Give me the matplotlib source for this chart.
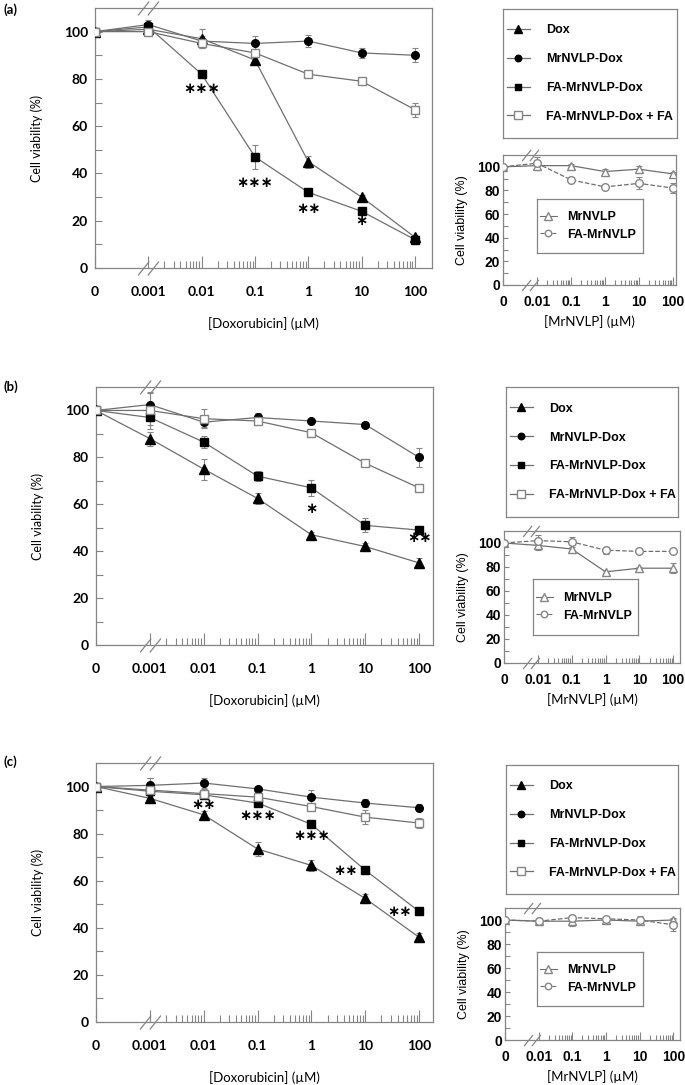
import numpy as np
import matplotlib
matplotlib.use("Agg")
import matplotlib.pyplot as plt
from matplotlib.lines import Line2D
from matplotlib.path import Path
from matplotlib.transforms import blended_transform_factory

W, H = 685, 1085

# ---- data ----
dox_conc = [0, 0.001, 0.01, 0.1, 1, 10, 100]
dox_labels = ["0", "0.001", "0.01", "0.1", "1", "10", "100"]
vlp_conc = [0, 0.01, 0.1, 1, 10, 100]
vlp_labels = ["0", "0.01", "0.1", "1", "10", "100"]

series_names = ["Dox", "MrNVLP-Dox", "FA-MrNVLP-Dox", "FA-MrNVLP-Dox + FA"]
vlp_names = ["MrNVLP", "FA-MrNVLP"]

# (a)
a_dox = [100, 101, 97, 88, 45, 30, 13]
a_dox_err = [0, 2, 4, 1.5, 2.5, 1, 1]
a_mr = [100, 103, 96, 95, 96, 91, 90]
a_mr_err = [0, 2, 2, 3, 2.5, 2, 3]
a_fa = [100, 102, 82, 47, 32, 24, 12]
a_fa_err = [0, 2, 1, 5, 1, 1, 1]
a_fafa = [100, 100, 95, 91, 82, 79, 67]
a_fafa_err = [0, 2, 2, 1, 1, 1, 3]
a_star_text = ["***", "***", "**", "*"]
a_star_conc = [0.01, 0.1, 1, 10]
a_star_y = [76, 36, 25, 20]
a_vlp = [100, 101, 101, 96, 98, 94]
a_vlp_err = [0, 4, 1, 2, 3, 2]
a_favlp = [100, 103, 89, 83, 86, 82]
a_favlp_err = [0, 5, 2, 1, 5, 4]

# (b)
b_dox = [100, 88, 75, 62.5, 47, 42, 35]
b_dox_err = [0, 3, 4.5, 2.5, 1, 1.5, 2]
b_mr = [100, 102.5, 95, 97, 95.5, 94, 80]
b_mr_err = [0, 5, 2, 2, 1, 1, 4]
b_fa = [100, 97, 86.5, 72, 67, 51, 49]
b_fa_err = [0, 3, 2.5, 2, 3.5, 3, 1.5]
b_fafa = [100, 100, 96.5, 95.5, 90.5, 77.5, 67]
b_fafa_err = [0, 8, 4, 1, 1, 1, 1]
b_star_text = ["*", "**"]
b_star_conc = [1, 100]
b_star_y = [58, 46]
b_vlp = [100, 98, 95, 76, 79, 79]
b_vlp_err = [0, 4, 3, 1, 1, 4]
b_favlp = [100, 102, 101, 94, 93, 93]
b_favlp_err = [0, 5, 4, 3, 1, 1]

# (c)
c_dox = [100, 95, 88, 73.5, 66.5, 52.5, 36]
c_dox_err = [0, 2, 1.5, 3, 2.5, 2, 2]
c_mr = [100, 100.5, 101.5, 99, 95.5, 93, 91]
c_mr_err = [0, 3, 2, 1, 3, 1.5, 1.5]
c_fa = [100, 98, 96.5, 93, 84, 64.5, 47]
c_fa_err = [0, 2, 1, 1, 1, 1, 1]
c_fafa = [100, 98.5, 97, 95.5, 91.5, 87, 84.5]
c_fafa_err = [0, 5, 2, 1, 1, 3, 2]
c_star_text = ["**", "***", "***", "**", "**"]
c_star_conc = [0.01, 0.1, 1, 10, 100]
c_star_y = [92.5, 87.5, 79, 64.5, 47]
c_vlp = [100, 99, 99, 100, 99, 100]
c_vlp_err = [0, 1, 4, 2, 2, 2]
c_favlp = [100, 99, 102, 101, 100, 96]
c_favlp_err = [0, 3, 2, 1, 3, 5]

# ---- styling ----
LINE = "#6f6f6f"
GRAY = "#858585"
TICKFONT = "Lato"
LEGFONT = "Liberation Sans"

main_styles = [
    dict(marker="^", ms=6.5, mfc="black", mec="black"),
    dict(marker="o", ms=5.5, mfc="black", mec="black"),
    dict(marker="s", ms=5.2, mfc="black", mec="black"),
    dict(marker="s", ms=6, mfc="white", mec=GRAY),
]
vlp_styles = [
    dict(marker="^", ms=6, mfc="white", mec=GRAY, ls="-"),
    dict(marker="o", ms=5.5, mfc="white", mec=GRAY, ls="--"),
]

# slash pair used as axis-break symbol
brk = Path([(-1.5, -1), (0.1, 1), (-0.1, -1), (1.5, 1)],
           [Path.MOVETO, Path.LINETO, Path.MOVETO, Path.LINETO])


def ax_box(x0, y0, x1, y1):
    return [x0 / W, 1 - y1 / H, (x1 - x0) / W, (y1 - y0) / H]


def to_pos(conc, zero):
    return np.array([np.log10(c) if c > 0 else zero for c in conc])


def add_break(ax, x, size):
    tr = blended_transform_factory(ax.transData, ax.transAxes)
    for yy in (0, 1):
        ax.plot([x], [yy], transform=tr, marker=brk, ms=size, color=GRAY,
                mew=0.9, ls="none", clip_on=False, zorder=6)


def plot_series(ax, x, y, err, style, lw=0.9):
    y = np.asarray(y, float)
    err = np.asarray(err, float)
    ok = err > 0
    ax.errorbar(x[ok], y[ok], yerr=err[ok], fmt="none", ecolor=GRAY,
                elinewidth=0.8, capsize=2.5, capthick=0.8, zorder=2)
    st = dict(style)
    ls = st.pop("ls", "-")
    ax.plot(x, y, color=LINE, lw=lw, ls=ls, zorder=3, **st)


def style_spines(ax):
    for s in ax.spines.values():
        s.set_color(GRAY)
        s.set_linewidth(0.9)


def legend_box(fig, box, handles, labels, fontsize, spacing, hlen, tpad, bpad):
    lax = fig.add_axes(ax_box(*box))
    lax.set_xticks([])
    lax.set_yticks([])
    style_spines(lax)
    lax.legend(handles, labels, loc="center left", bbox_to_anchor=(0, 0.5),
               frameon=False, borderaxespad=0, borderpad=bpad,
               labelspacing=spacing, handlelength=hlen, handletextpad=tpad,
               markerscale=0.85,
               prop=dict(family=LEGFONT, weight="bold", size=fontsize))
    return lax


def draw_panel(fig, tag, lay, main_vals, main_errs, stars, vlp_vals, vlp_errs):
    # main dose-response axes
    ax = fig.add_axes(ax_box(*lay["main"]))
    x = to_pos(dox_conc, -4)
    for vals, errs, st in zip(main_vals, main_errs, main_styles):
        plot_series(ax, x, vals, errs, st)
    for txt, c, yv, ha in zip(*stars):
        px = np.log10(c)
        if ha == "right":
            px -= 0.13
        ax.text(px, yv, txt.replace("*", "\u2217"), ha=ha, va="center",
                fontsize=10.5, fontweight="bold", family="DejaVu Sans")
    ax.set_xlim(-4, lay["xmax"])
    ax.set_ylim(0, 110)
    ax.set_xticks(x)
    ax.set_xticklabels(dox_labels)
    ax.set_xticks([n + np.log10(k) for n in range(-3, 2) for k in range(2, 10)], minor=True)
    ax.set_yticks(range(0, 101, 20))
    ax.set_yticks(range(10, 100, 20), minor=True)
    ax.tick_params(axis="x", which="major", direction="in", length=9, width=0.8,
                   color=GRAY, pad=13)
    ax.tick_params(axis="x", which="minor", direction="in", length=5, width=0.8,
                   color=GRAY)
    ax.tick_params(axis="y", which="both", direction="in", length=5, width=0.8,
                   color=GRAY, pad=5)
    for lab in ax.get_xticklabels() + ax.get_yticklabels():
        lab.set_family(TICKFONT)
        lab.set_fontweight("bold")
        lab.set_fontsize(10)
    ax.set_ylabel("Cell viability (%)", family=TICKFONT, fontsize=9)
    ax.yaxis.set_label_coords(-0.155, 0.5)
    ax.set_xlabel("[Doxorubicin] (\u00b5M)", family=TICKFONT, fontsize=9.5)
    ax.xaxis.set_label_coords(0.5, -0.19)
    style_spines(ax)
    add_break(ax, -3, 15)
    fig.text(4 / W, 1 - lay["tag_y"] / H, f"({tag})", family=TICKFONT,
             fontweight="bold", fontsize=9.5, va="center", ha="left")

    # legend for the main panel
    handles = [Line2D([], [], color=LINE, lw=0.9, **st) for st in main_styles]
    legend_box(fig, lay["legend"], handles, series_names, 9, 1.35, 1.85, 1.3, 0.3)

    # inset: carrier alone
    iax = fig.add_axes(ax_box(*lay["inset"]))
    xi = to_pos(vlp_conc, -3)
    for vals, errs, st in zip(vlp_vals, vlp_errs, vlp_styles):
        plot_series(iax, xi, vals, errs, st, lw=0.9)
    iax.set_xlim(-3, lay["ixmax"])
    iax.set_ylim(0, 110)
    iax.set_xticks(xi)
    iax.set_xticklabels(vlp_labels)
    iax.set_xticks([n + np.log10(k) for n in range(-2, 2) for k in range(2, 10)], minor=True)
    iax.set_yticks(range(0, 101, 20))
    iax.set_yticks(range(10, 100, 20), minor=True)
    iax.tick_params(axis="x", which="major", direction="in", length=6, width=0.8,
                    color=GRAY, pad=7)
    iax.tick_params(axis="x", which="minor", direction="in", length=3.5, width=0.8,
                    color=GRAY)
    iax.tick_params(axis="y", which="both", direction="in", length=3.5, width=0.8,
                    color=GRAY, pad=2)
    for lab in iax.get_xticklabels() + iax.get_yticklabels():
        lab.set_family(LEGFONT)
        lab.set_fontweight("bold")
        lab.set_fontsize(10)
    iax.set_ylabel("Cell viability (%)", family=LEGFONT, fontsize=9)
    iax.yaxis.set_label_coords(-0.2, 0.5)
    iax.set_xlabel("[MrNVLP] (\u00b5M)", family=TICKFONT, fontsize=9.5)
    iax.xaxis.set_label_coords(0.5, -0.23)
    style_spines(iax)
    add_break(iax, -2.2, 12)

    ihandles = []
    for st in vlp_styles:
        s = dict(st)
        ls = s.pop("ls")
        ihandles.append(Line2D([], [], color=LINE, lw=0.8, ls=ls, **s))
    legend_box(fig, lay["inset_legend"], ihandles, vlp_names, 9, 0.45, 1.4, 0.8, 0.2)


layouts = {
    "a": dict(tag_y=10, main=(95, 8, 432, 268), xmax=2.32,
              legend=(503, 9, 677, 138), inset=(503, 155, 676, 285), ixmax=2.09,
              inset_legend=(537, 199, 643, 253)),
    "b": dict(tag_y=387, main=(96, 387, 433, 645), xmax=2.26,
              legend=(506, 387, 678, 517), inset=(504, 531, 680, 663), ixmax=2.2,
              inset_legend=(533, 579, 638, 635)),
    "c": dict(tag_y=762, main=(96, 763, 433, 1022), xmax=2.26,
              legend=(506, 765, 678, 894), inset=(505, 908, 680, 1040), ixmax=2.2,
              inset_legend=(537, 952, 643, 1006)),
}

fig = plt.figure(figsize=(W / 100, H / 100), dpi=100)

draw_panel(fig, "a", layouts["a"],
           [a_dox, a_mr, a_fa, a_fafa], [a_dox_err, a_mr_err, a_fa_err, a_fafa_err],
           (a_star_text, a_star_conc, a_star_y, ["center"] * 4),
           [a_vlp, a_favlp], [a_vlp_err, a_favlp_err])
draw_panel(fig, "b", layouts["b"],
           [b_dox, b_mr, b_fa, b_fafa], [b_dox_err, b_mr_err, b_fa_err, b_fafa_err],
           (b_star_text, b_star_conc, b_star_y, ["center"] * 2),
           [b_vlp, b_favlp], [b_vlp_err, b_favlp_err])
draw_panel(fig, "c", layouts["c"],
           [c_dox, c_mr, c_fa, c_fafa], [c_dox_err, c_mr_err, c_fa_err, c_fafa_err],
           (c_star_text, c_star_conc, c_star_y, ["center", "center", "center", "right", "right"]),
           [c_vlp, c_favlp], [c_vlp_err, c_favlp_err])

fig.savefig("out.png", dpi=100)
